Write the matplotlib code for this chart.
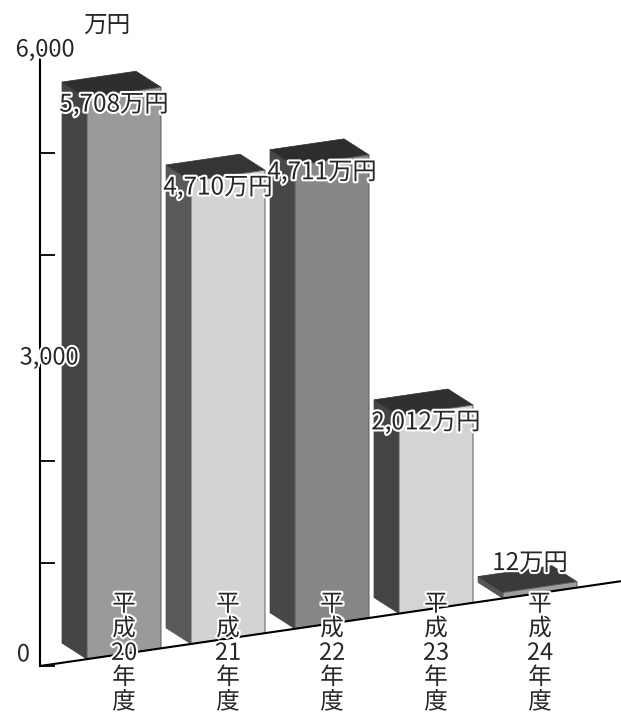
import matplotlib
matplotlib.use("Agg")
import matplotlib.pyplot as plt
import matplotlib.patheffects as pe
from matplotlib.patches import Polygon
from matplotlib.transforms import Affine2D, blended_transform_factory

plt.rcParams['font.family'] = ['Noto Sans CJK JP', 'DejaVu Sans']

# data
years = ['平\n成\n20\n年\n度', '平\n成\n21\n年\n度', '平\n成\n22\n年\n度',
         '平\n成\n23\n年\n度', '平\n成\n24\n年\n度']
amounts = [5708, 4710, 4711, 2012, 12]
amount_labels = ['5,708万円', '4,710万円', '4,711万円', '2,012万円', '12万円']
axis_ticks = [0, 1000, 2000, 3000, 4000, 5000, 6000]
axis_labels = {0: '0', 3000: '3,000', 6000: '6,000'}

front_colors = ['#9a9a9d', '#d3d3d5', '#87878a', '#d4d4d6', '#9d9d9f']
side_colors = ['#444446', '#59595b', '#474749', '#444446', '#555557']
top_colors = ['#2e2e30', '#353537', '#2d2d2f', '#303032', '#3a3a3c']

# layout (pixels)
W, H = 621, 722
px_cat = 104.0        # pixels per category step
px_val = 0.0983       # pixels per value unit (bars)
first_px = 124        # first bar centre
axis_px = 40          # value axis x
base_px = 666         # baseline y at the axis
slope = 0.146         # baseline rise per pixel
bar_w = 74 / px_cat
depth_dx = -25 / px_cat
depth_up = 16

x_axis = (axis_px - first_px) / px_cat
x_end = (W - first_px) / px_cat
rise = slope * px_cat / px_val
depth_dv = depth_up / px_val - rise * depth_dx

fig = plt.figure(figsize=(W / 100, H / 100), dpi=100)
ax = fig.add_axes([0, 0, 1, 1])
ax.set_xlim(-first_px / px_cat, x_end)
ax.set_ylim(-(H - base_px) / px_val, base_px / px_val)
ax.axis('off')

skew = Affine2D().from_values(1, rise, 0, 1, 0, -rise * x_axis)
tr = skew + ax.transData

halo = [pe.withStroke(linewidth=3, foreground='white')]
txt_color = '#262626'

for i, v in enumerate(amounts):
    h = max(v, 60)  # very small bars still get a visible slab
    l, r = i - bar_w / 2, i + bar_w / 2
    side = [(l, 0), (l + depth_dx, depth_dv), (l + depth_dx, h + depth_dv), (l, h)]
    top = [(l, h), (r, h), (r + depth_dx, h + depth_dv), (l + depth_dx, h + depth_dv)]
    front = [(l, 0), (r, 0), (r, h), (l, h)]
    ax.add_patch(Polygon(side, closed=True, facecolor=side_colors[i],
                         edgecolor=side_colors[i], lw=0.5, transform=tr))
    ax.add_patch(Polygon(top, closed=True, facecolor=top_colors[i],
                         edgecolor=top_colors[i], lw=0.5, transform=tr))
    ax.add_patch(Polygon(front, closed=True, facecolor=front_colors[i],
                         edgecolor='#5a5a5c', lw=0.7, transform=tr))

# floor line
ax.plot([x_axis, x_end], [0, 0], color='black', lw=1.5, transform=tr,
        solid_capstyle='butt')

# value labels
for i, v in enumerate(amounts):
    dy = -12 if v > 500 else 24
    ax.annotate(amount_labels[i], xy=(i, max(v, 60)), xycoords=tr,
                xytext=(-10, dy), textcoords='offset pixels',
                ha='center', va='center', fontsize=17.5, color=txt_color,
                path_effects=halo)

# category labels
lab_tr = blended_transform_factory(ax.transData, fig.transFigure)
for i, lab in enumerate(years):
    ax.text(i, 1 - 593 / H, lab, transform=lab_tr, ha='center', va='top',
            fontsize=17, color=txt_color, linespacing=1.08,
            multialignment='center', path_effects=halo)

# value axis
ax_val = fig.add_axes([axis_px / W, (H - base_px) / H, 0.1, 616 / H])
ax_val.set_ylim(0, 6000)
ax_val.patch.set_visible(False)
for s in ['top', 'right', 'bottom']:
    ax_val.spines[s].set_visible(False)
ax_val.spines['left'].set_linewidth(1.5)
ax_val.set_xticks([])
ax_val.set_yticks(axis_ticks)
ax_val.set_yticklabels([])
ax_val.tick_params(axis='y', direction='in', length=11, width=1.3)

offsets = {0: (-12, 8), 3000: (6.5, 0), 6000: (3.6, 0)}
for val, txt in axis_labels.items():
    ax_val.annotate(txt, xy=(0, val), xycoords=('axes fraction', 'data'),
                    xytext=offsets[val], textcoords='offset points',
                    ha='center', va='center', fontsize=17, color=txt_color,
                    path_effects=halo)
ax_val.annotate('万円', xy=(0, 6000), xycoords=('axes fraction', 'data'),
                xytext=(48, 18), textcoords='offset points',
                ha='center', va='center', fontsize=17, color=txt_color)

fig.savefig('out.png', dpi=100)
